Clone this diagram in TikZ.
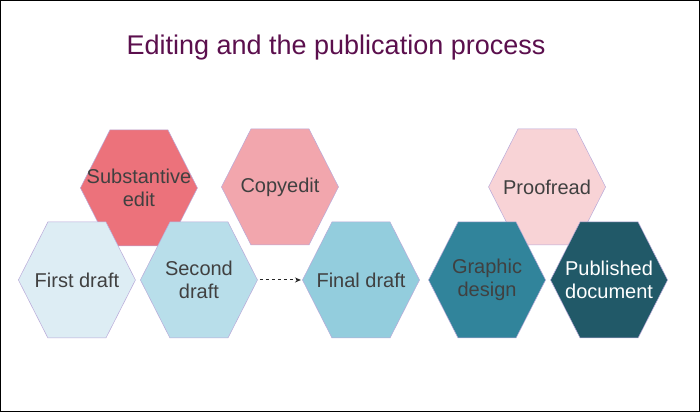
\documentclass[tikz,border=0pt]{standalone}
\usepackage{fontspec}
\usetikzlibrary{calc,arrows.meta}
\setmainfont{Liberation Sans}
\begin{document}
\begin{tikzpicture}[x=1pt,y=-1pt,
  hexa/.style={draw=hexborder,line width=0.5pt},
  lbl/.style={font=\fontsize{20}{23}\selectfont,text=txtgray,align=center}]
\definecolor{hexborder}{HTML}{B9A9D9}
\definecolor{txtgray}{HTML}{404040}
\definecolor{ttl}{HTML}{5B0F4D}
\definecolor{cA}{HTML}{EC727B}
\definecolor{cB}{HTML}{F2A6AD}
\definecolor{cC}{HTML}{F8D3D6}
\definecolor{cD}{HTML}{DDEDF4}
\definecolor{cE}{HTML}{B8DEEA}
\definecolor{cF}{HTML}{93CDDD}
\definecolor{cG}{HTML}{31849B}
\definecolor{cH}{HTML}{215968}
\draw[black,line width=0.8pt,fill=white] (0.5,0.5) rectangle (699.5,411.5);
\node[font=\fontsize{27}{31}\selectfont,text=ttl] (title) at (336,48) {Editing and the publication process};
\newcommand{\hexat}[4]{%
  \fill[#3] (#1-58.5,#2) -- (#1-29,#2-58) -- (#1+29,#2-58) -- (#1+58.5,#2) -- (#1+29,#2+58) -- (#1-29,#2+58) -- cycle;
  \draw[hexborder,line width=0.5pt] (#1-58.5,#2) -- (#1-29,#2-58) -- (#1+29,#2-58) -- (#1+58.5,#2) -- (#1+29,#2+58) -- (#1-29,#2+58) -- cycle;
  \coordinate (#4) at (#1,#2);}
\hexat{139}{188}{cA}{hA}
\hexat{280}{187}{cB}{hB}
\hexat{547}{187}{cC}{hC}
\hexat{77}{280}{cD}{hD}
\hexat{199}{280}{cE}{hE}
\hexat{361}{280}{cF}{hF}
\hexat{487}{280}{cG}{hG}
\hexat{609}{280}{cH}{hH}
\node[lbl] (tA) at (hA) {Substantive\\edit};
\node[lbl] (tB) at (hB) {Copyedit};
\node[lbl] (tC) at (hC) {Proofread};
\node[lbl] (tD) at (hD) {First draft};
\node[lbl] (tE) at (hE) {Second\\draft};
\node[lbl] (tF) at (hF) {Final draft};
\node[lbl] (tG) at (hG) {Graphic\\design};
\node[lbl,text=white] (tH) at (hH) {Published\\document};
\coordinate (aS) at ($(hE)+(61,0)$);
\coordinate (aE) at ($(hF)+(-60,0)$);
\draw[dashed,-{Stealth[length=6pt,width=5pt]},line width=1pt,black!85] (aS) -- (aE);
\end{tikzpicture}
\end{document}
